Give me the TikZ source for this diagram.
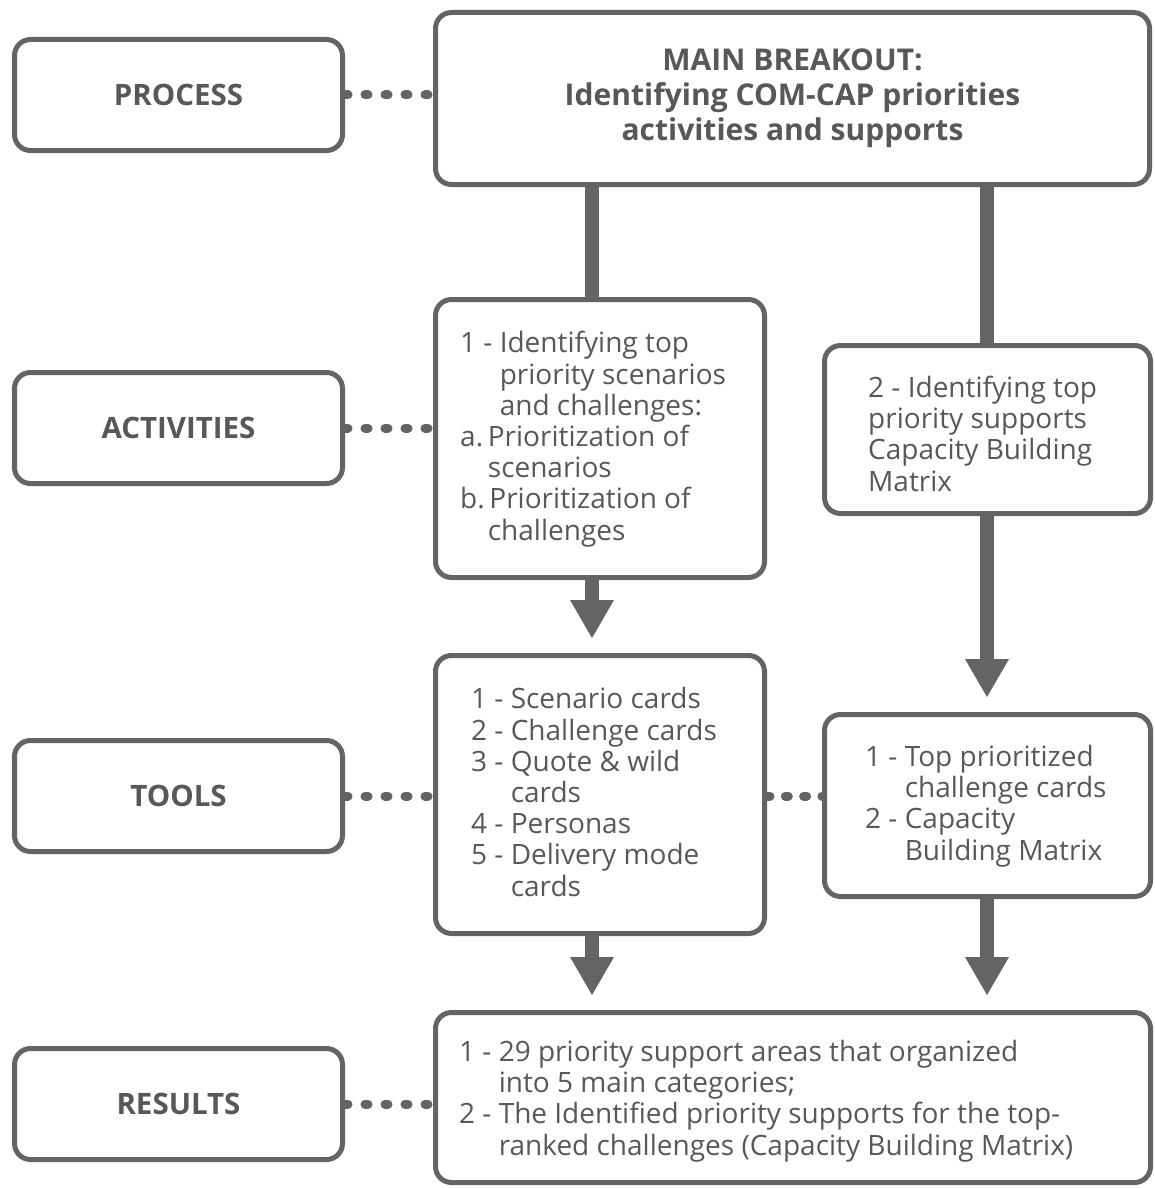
\documentclass[tikz,border=0pt]{standalone}
\usepackage{fontspec}
\setmainfont{Open Sans}
\usetikzlibrary{arrows.meta}
\definecolor{ln}{HTML}{646466}
\definecolor{tx}{HTML}{58585A}
\begin{document}
\begin{tikzpicture}[x=1pt,y=-1pt,
  box/.style={draw=ln, line width=5pt, rounded corners=16pt, rectangle, inner sep=0pt, fill=white},
  lab/.style={box, minimum width=328pt, minimum height=111pt, font=\fontsize{29.5}{34}\selectfont\bfseries, text=tx},
  txt/.style={font=\fontsize{28}{31.2}\selectfont, text=tx, align=left, inner sep=0pt, anchor=base west},
  dots/.style={draw=ln, line width=9pt, line cap=round, dash pattern=on 3pt off 17pt},
  link/.style={draw=ln, line width=14pt},
  arr/.style={link, -{Triangle[width=44pt,length=38pt,line width=0pt]}, shorten >=15pt}]
\path[use as bounding box, fill=white] (0,0) rectangle (1155,1188);

% left labels
\node[lab] (proc) at (178.5,95) {PROCESS};
\node[lab] (act)  at (178.5,428) {ACTIVITIES};
\node[lab] (tool) at (178.5,796) {TOOLS};
\node[lab] (res)  at (178.5,1104) {RESULTS};

% boxes
\node[box, minimum width=714pt, minimum height=172pt, align=center, text=tx,
      font=\fontsize{30}{35}\selectfont\bfseries] (main) at (792.5,98.5)
      {MAIN BREAKOUT:\\Identifying COM-CAP priorities\\activities and supports};
\node[box, minimum width=329pt, minimum height=278pt] (act1) at (600,438.5) {};
\node[box, minimum width=326pt, minimum height=168pt] (act2) at (987.5,429.5) {};
\node[box, minimum width=329pt, minimum height=278pt] (tools1) at (600,794.5) {};
\node[box, minimum width=326pt, minimum height=182pt] (tools2) at (987.5,805.5) {};
\node[box, minimum width=715pt, minimum height=170pt] (results) at (793,1097.5) {};

% texts (anchor = baseline of the last line)
\node[txt] (t1) at (460,540) {1 - Identifying top\\\phantom{1 - }priority scenarios\\\phantom{1 - }and challenges:\\a.\,Prioritization of\\\phantom{a.\,}scenarios\\b.\,Prioritization of\\\phantom{a.\,}challenges};
\node[txt] (t2) at (868,491) {2 - Identifying top\\priority supports\\Capacity Building\\Matrix};
\node[txt] (t3) at (471,896) {1 - Scenario cards\\2 - Challenge cards\\3 - Quote \& wild\\\phantom{3 - }cards\\4 - Personas\\5 - Delivery mode\\\phantom{5 - }cards};
\node[txt] (t4) at (865,860) {1 - Top prioritized\\\phantom{1 - }challenge cards\\2 - Capacity\\\phantom{2 - }Building Matrix};
\node[txt] (t5) at (459,1155) {1 - 29 priority support areas that organized\\\phantom{1 - }into 5 main categories;\\2 - The Identified priority supports for the top-\\\phantom{2 - }ranked challenges (Capacity Building Matrix)};

% columns
\coordinate (cl) at (592,0);
\coordinate (cr) at (987,0);

% connectors
\draw[link] (main.south -| cl) -- (act1.north -| cl);
\draw[link] (main.south -| cr) -- (act2.north -| cr);
\draw[arr] (act1.south -| cl) -- (tools1.north -| cl);
\draw[arr] (act2.south -| cr) -- (tools2.north -| cr);
\draw[arr] (tools1.south -| cl) -- (results.north -| cl);
\draw[arr] (tools2.south -| cr) -- (results.north -| cr);

% dotted links
\draw[dots] (proc.east) -- (main.west |- proc.east);
\draw[dots] (act.east) -- (act1.west |- act.east);
\draw[dots] (tool.east) -- (tools1.west |- tool.east);
\draw[dots, dash pattern=on 3pt off 15.3pt] (tools1.east |- tool.east) -- (tools2.west |- tool.east);
\draw[dots] (res.east) -- (results.west |- res.east);
\end{tikzpicture}
\end{document}
